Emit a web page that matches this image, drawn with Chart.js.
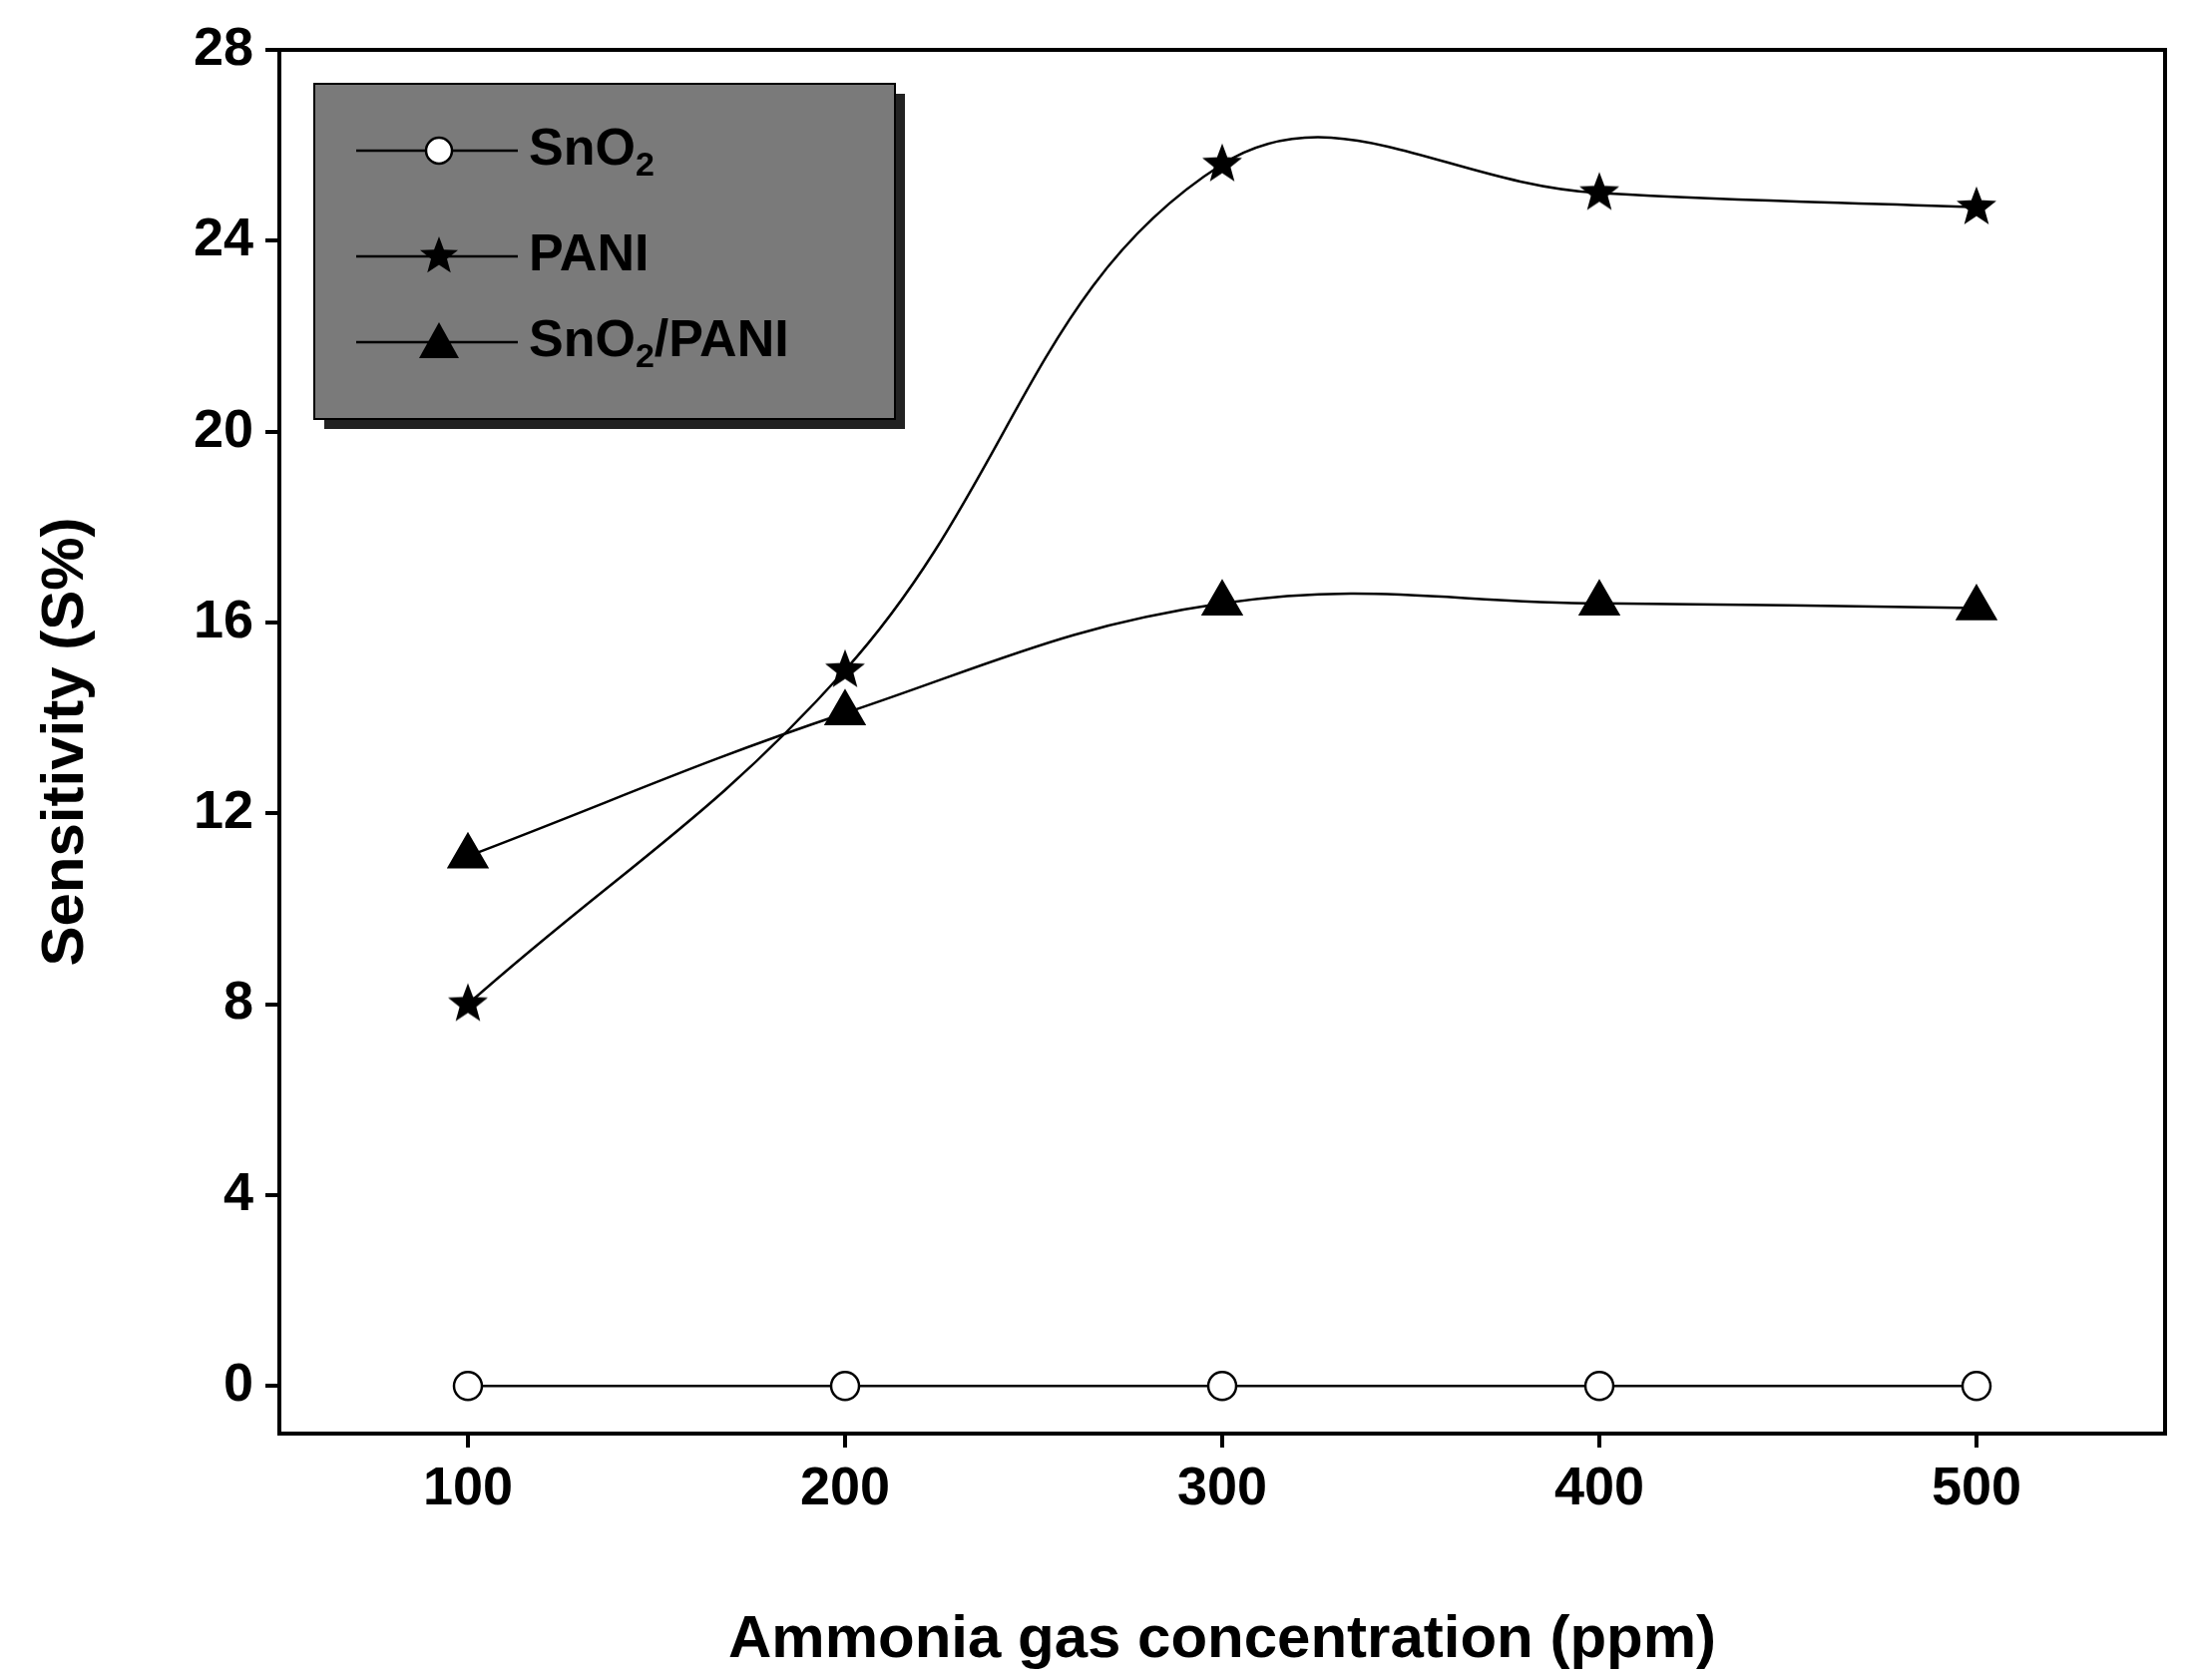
<!DOCTYPE html>
<html><head><meta charset="utf-8">
<script src="https://cdn.jsdelivr.net/npm/chart.js@4"></script>
<style>body{margin:0;background:#fff}</style></head>
<body><canvas id="c" width="2198" height="1684"></canvas>
<script>
const xValues=[100,200,300,400,500];
const sno2=[0,0,0,0,0];
const pani=[8,15,25.6,25,24.7];
const sno2pani=[11.1,14.1,16.4,16.4,16.3];
const xTicks=[100,200,300,400,500];
const yTicks=[0,4,8,12,16,20,24,28];
const F='"Liberation Sans", Arial, sans-serif';

function starImg(r){const c=document.createElement('canvas');c.width=c.height=2*r+4;const g=c.getContext('2d');g.translate(r+2,r+2);g.beginPath();
for(let i=0;i<10;i++){const a=-Math.PI/2+i*Math.PI/5;const rr=i%2?r*0.42:r;g.lineTo(rr*Math.cos(a),rr*Math.sin(a));}
g.closePath();g.fillStyle='#000';g.fill();return c;}
const star=starImg(21), starSmall=starImg(20);

const pts=a=>xValues.map((x,i)=>({x,y:a[i]}));
const frame={id:'frame',afterDraw(ch){const g=ch.ctx,a=ch.chartArea;g.save();g.strokeStyle='#000';g.lineWidth=4;g.strokeRect(a.left,a.top,a.right-a.left,a.bottom-a.top);
g.fillStyle='#222';g.fillRect(325,94,582,336);g.fillStyle='#7a7a7a';g.fillRect(315,84,582,336);g.strokeStyle='#000';g.lineWidth=2;g.strokeRect(315,84,582,336);
const rows=[[151,'c',['SnO','2','']],[257,'s',['PANI','','']],[343,'t',['SnO','2','/PANI']]];
rows.forEach(([y,m,t])=>{g.strokeStyle='#000';g.lineWidth=2.5;g.beginPath();g.moveTo(357,y);g.lineTo(519,y);g.stroke();
if(m==='c'){g.beginPath();g.arc(440,y,13,0,7);g.fillStyle='#fff';g.fill();g.stroke();}
else if(m==='s'){g.drawImage(starSmall,440-22,y-22);}
else{g.beginPath();g.moveTo(440,y-20);g.lineTo(460,y+16);g.lineTo(420,y+16);g.closePath();g.fillStyle='#000';g.fill();}
g.fillStyle='#000';g.font='bold 52px '+F;g.textBaseline='middle';let x=530;g.fillText(t[0],x,y);x+=g.measureText(t[0]).width;
if(t[1]){g.font='bold 34px '+F;g.fillText(t[1],x,y+16);x+=g.measureText(t[1]).width;}
if(t[2]){g.font='bold 52px '+F;g.fillText(t[2],x,y);}});
g.restore();}};
new Chart(document.getElementById('c'),{type:'line',
data:{datasets:[
{data:pts(sno2),borderColor:'#000',borderWidth:2.5,pointStyle:'circle',pointRadius:14,pointBackgroundColor:'#fff',pointBorderColor:'#000',pointBorderWidth:2.5,tension:0},
{data:pts(pani),borderColor:'#000',borderWidth:2.5,pointStyle:star,tension:0.4},
{data:pts(sno2pani),borderColor:'#000',borderWidth:2.5,pointStyle:'triangle',pointRadius:22,pointBackgroundColor:'#000',pointBorderColor:'#000',tension:0.4}]},
options:{responsive:false,animation:false,layout:{padding:{top:50,right:28,left:0,bottom:0}},
plugins:{legend:{display:false},tooltip:{enabled:false}},
scales:{
x:{type:'linear',min:50,max:550,afterBuildTicks:s=>{s.ticks=xTicks.map(v=>({value:v}));},afterFit:s=>{s.height=247;},
grid:{drawOnChartArea:false,tickLength:14,lineWidth:4,color:'#000'},border:{width:4,color:'#000'},
ticks:{color:'#000',font:{family:F,size:54,weight:'bold'},padding:10},
title:{display:true,text:'Ammonia gas concentration (ppm)',color:'#000',font:{family:F,size:60,weight:'bold'},padding:{top:10}}},
y:{min:-1,max:28,afterBuildTicks:s=>{s.ticks=yTicks.map(v=>({value:v}));},afterFit:s=>{s.width=280;},
grid:{drawOnChartArea:false,tickLength:14,lineWidth:4,color:'#000'},border:{width:4,color:'#000'},
ticks:{color:'#000',font:{family:F,size:54,weight:'bold'},padding:12},
title:{display:true,text:'Sensitivity (S%)',color:'#000',font:{family:F,size:60,weight:'bold'},padding:{top:30,bottom:10}}}}},
plugins:[frame]});
</script></body></html>
